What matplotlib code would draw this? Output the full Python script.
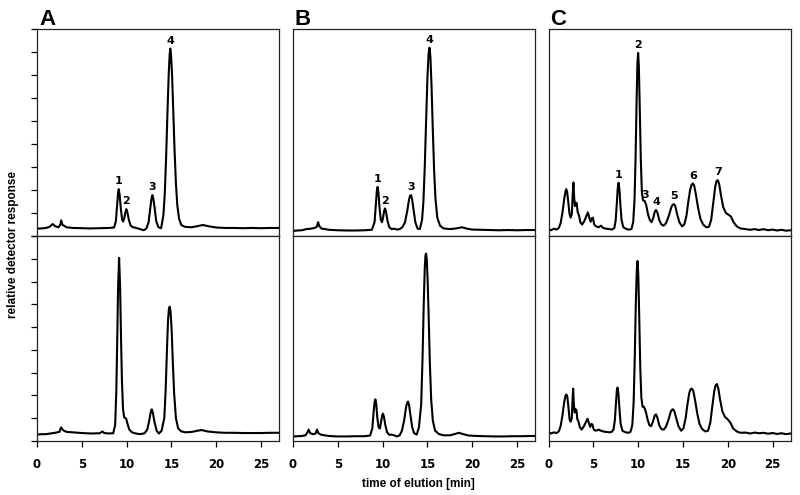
import numpy as np
import matplotlib
matplotlib.use('Agg')
import matplotlib.pyplot as plt

plt.rcParams['font.family'] = ['Liberation Sans', 'DejaVu Sans']

# chromatogram traces, (time in min, relative response)
a_top = [(0, 0.32), (0.5, 0.33), (1.0, 0.35), (1.4, 0.4), (1.75, 0.52), (2.05, 0.42), (2.4, 0.38),
         (2.6, 0.5), (2.7, 0.68), (2.85, 0.48), (3.0, 0.45), (3.3, 0.38), (4.0, 0.35), (5.0, 0.34),
         (6.0, 0.33), (7.0, 0.34), (8.0, 0.35), (8.6, 0.37), (8.8, 0.64), (8.95, 1.4), (9.05, 1.9),
         (9.12, 2.04), (9.22, 1.8), (9.35, 1.2), (9.5, 0.7), (9.62, 0.63), (9.75, 0.8), (9.87, 1.05),
         (9.97, 1.17), (10.1, 1.0), (10.25, 0.7), (10.45, 0.45), (10.7, 0.38), (11.0, 0.36), (11.5, 0.3),
         (11.9, 0.25), (12.2, 0.32), (12.45, 0.6), (12.65, 1.25), (12.78, 1.65), (12.87, 1.78),
         (12.97, 1.65), (13.1, 1.3), (13.3, 0.65), (13.55, 0.38), (13.85, 0.34), (14.1, 0.9),
         (14.25, 1.8), (14.4, 3.35), (14.55, 5.3), (14.7, 7.1), (14.8, 7.9), (14.87, 8.16), (14.95, 7.9),
         (15.07, 7.0), (15.2, 5.5), (15.35, 3.7), (15.5, 2.3), (15.65, 1.35), (15.85, 0.75), (16.1, 0.48),
         (16.5, 0.4), (17.2, 0.38), (17.8, 0.42), (18.5, 0.48), (19.2, 0.42), (20, 0.37), (21, 0.35),
         (22, 0.35), (23, 0.34), (24, 0.35), (25, 0.34), (26, 0.35), (27, 0.35)]

a_bottom = [(0, 0.28), (0.5, 0.3), (1.0, 0.3), (1.5, 0.33), (2.0, 0.36), (2.5, 0.4), (2.7, 0.6),
            (2.85, 0.5), (3.0, 0.45), (3.3, 0.4), (4, 0.38), (5, 0.35), (6, 0.33), (7, 0.34), (7.3, 0.42),
            (7.5, 0.35), (8, 0.33), (8.5, 0.34), (8.72, 0.7), (8.85, 2.2), (8.95, 4.4), (9.05, 6.8),
            (9.16, 8.04), (9.27, 6.8), (9.37, 4.6), (9.48, 2.6), (9.6, 1.4), (9.72, 1.05), (9.85, 1.0),
            (9.95, 0.98), (10.1, 0.75), (10.3, 0.5), (10.6, 0.38), (11.0, 0.33), (11.5, 0.3), (12.0, 0.34),
            (12.3, 0.5), (12.5, 0.85), (12.7, 1.3), (12.8, 1.39), (12.92, 1.25), (13.1, 0.85), (13.35, 0.45),
            (13.6, 0.33), (13.9, 0.45), (14.2, 1.0), (14.35, 2.2), (14.5, 4.0), (14.62, 5.3), (14.72, 5.8),
            (14.8, 5.9), (14.9, 5.7), (15.02, 4.9), (15.15, 3.5), (15.3, 2.1), (15.5, 1.0), (15.75, 0.55),
            (16.1, 0.42), (16.6, 0.38), (17.3, 0.4), (18.0, 0.46), (18.4, 0.48), (19.0, 0.42), (20, 0.38),
            (21, 0.36), (22, 0.36), (23, 0.35), (24, 0.35), (25, 0.35), (26, 0.36), (27, 0.36)]

b_top = [(0, 0.22), (0.5, 0.24), (1.0, 0.25), (1.5, 0.3), (2.0, 0.32), (2.4, 0.35), (2.65, 0.4),
         (2.8, 0.6), (2.95, 0.42), (3.2, 0.32), (3.6, 0.3), (4.0, 0.27), (5, 0.25), (6, 0.24), (7, 0.24),
         (8, 0.25), (8.8, 0.27), (9.1, 0.6), (9.25, 1.4), (9.35, 1.95), (9.44, 2.14), (9.53, 1.9),
         (9.65, 1.25), (9.8, 0.7), (9.93, 0.6), (10.05, 0.8), (10.17, 1.1), (10.27, 1.2), (10.38, 1.05),
         (10.55, 0.65), (10.75, 0.38), (11.0, 0.3), (11.3, 0.32), (11.6, 0.28), (11.9, 0.3), (12.2, 0.38),
         (12.5, 0.6), (12.75, 1.1), (12.95, 1.6), (13.07, 1.75), (13.17, 1.78), (13.28, 1.62),
         (13.45, 1.15), (13.65, 0.6), (13.9, 0.32), (14.15, 0.3), (14.4, 0.7), (14.55, 1.5), (14.7, 3.0),
         (14.85, 5.0), (15.0, 6.9), (15.12, 7.9), (15.23, 8.2), (15.33, 7.8), (15.45, 6.6), (15.6, 4.6),
         (15.75, 2.8), (15.9, 1.6), (16.1, 0.8), (16.4, 0.45), (16.8, 0.33), (17.5, 0.3), (18.2, 0.33),
         (18.85, 0.38), (19.4, 0.32), (20, 0.28), (21, 0.27), (22, 0.26), (23, 0.25), (24, 0.26),
         (25, 0.25), (26, 0.26), (27, 0.26)]

b_bottom = [(0, 0.2), (0.5, 0.21), (1.0, 0.22), (1.4, 0.25), (1.6, 0.38), (1.75, 0.5), (1.9, 0.35),
            (2.2, 0.3), (2.5, 0.32), (2.68, 0.5), (2.82, 0.35), (3.1, 0.28), (3.5, 0.25), (4, 0.22),
            (5, 0.2), (6, 0.2), (7, 0.21), (8, 0.21), (8.6, 0.24), (8.85, 0.55), (9.0, 1.3), (9.1, 1.7),
            (9.19, 1.83), (9.28, 1.65), (9.4, 1.05), (9.55, 0.6), (9.7, 0.55), (9.85, 0.9), (9.95, 1.12),
            (10.04, 1.2), (10.14, 1.08), (10.3, 0.7), (10.5, 0.38), (10.75, 0.27), (11.0, 0.28),
            (11.3, 0.25), (11.6, 0.2), (11.9, 0.25), (12.15, 0.45), (12.4, 0.9), (12.6, 1.45),
            (12.73, 1.68), (12.83, 1.73), (12.94, 1.6), (13.1, 1.15), (13.3, 0.6), (13.5, 0.35),
            (13.8, 0.28), (14.05, 0.6), (14.3, 1.6), (14.45, 3.6), (14.58, 5.9), (14.7, 7.6), (14.78, 8.15),
            (14.84, 8.23), (14.92, 8.0), (15.02, 7.1), (15.14, 5.4), (15.27, 3.4), (15.42, 1.8), (15.6, 0.9),
            (15.85, 0.45), (16.3, 0.3), (16.8, 0.25), (17.5, 0.25), (18.0, 0.3), (18.5, 0.36), (19.0, 0.3),
            (19.6, 0.24), (20.5, 0.22), (21.5, 0.21), (22.5, 0.2), (23.5, 0.2), (24.5, 0.21), (25.5, 0.21),
            (26.5, 0.22), (27, 0.22)]

c_top = [(0, 0.3), (0.3, 0.25), (0.6, 0.32), (0.9, 0.28), (1.15, 0.35), (1.35, 0.55), (1.55, 1.0),
         (1.75, 1.6), (1.9, 1.95), (1.97, 2.04), (2.07, 1.95), (2.2, 1.5), (2.35, 0.95), (2.47, 0.8),
         (2.6, 0.95), (2.7, 1.8), (2.78, 2.33), (2.86, 1.7), (2.95, 1.3), (3.05, 1.45), (3.15, 1.43),
         (3.25, 1.05), (3.4, 0.9), (3.55, 0.6), (3.75, 0.5), (4.0, 0.65), (4.25, 0.9), (4.4, 1.03),
         (4.55, 0.8), (4.7, 0.62), (4.85, 0.78), (4.95, 0.8), (5.1, 0.5), (5.3, 0.42), (5.6, 0.38),
         (5.85, 0.45), (6.1, 0.35), (6.4, 0.32), (6.8, 0.3), (7.1, 0.28), (7.35, 0.35), (7.5, 0.7),
         (7.62, 1.4), (7.72, 2.05), (7.82, 2.32), (7.92, 2.0), (8.03, 1.3), (8.15, 0.7), (8.35, 0.38),
         (8.7, 0.3), (9.0, 0.28), (9.25, 0.3), (9.45, 0.6), (9.6, 1.6), (9.72, 3.5), (9.83, 5.9),
         (9.92, 7.5), (10.0, 7.97), (10.08, 7.4), (10.18, 5.6), (10.3, 3.3), (10.42, 1.9), (10.55, 1.55),
         (10.74, 1.52), (10.9, 1.35), (11.1, 0.95), (11.3, 0.7), (11.5, 0.6), (11.7, 0.8), (11.85, 1.05),
         (12.0, 1.13), (12.15, 1.02), (12.35, 0.7), (12.6, 0.5), (12.85, 0.45), (13.1, 0.55), (13.4, 0.85),
         (13.7, 1.25), (13.85, 1.36), (14.0, 1.39), (14.15, 1.3), (14.35, 0.95), (14.6, 0.6), (14.9, 0.42),
         (15.15, 0.5), (15.4, 0.9), (15.6, 1.5), (15.8, 2.0), (15.95, 2.22), (16.1, 2.29), (16.25, 2.2),
         (16.45, 1.8), (16.7, 1.2), (16.95, 0.75), (17.25, 0.5), (17.6, 0.38), (17.9, 0.4), (18.15, 0.7),
         (18.4, 1.5), (18.6, 2.15), (18.75, 2.4), (18.9, 2.43), (19.05, 2.25), (19.25, 1.75), (19.5, 1.25),
         (19.8, 1.0), (20.1, 0.92), (20.35, 0.85), (20.65, 0.6), (21.0, 0.42), (21.4, 0.33), (22, 0.3),
         (22.5, 0.27), (23, 0.3), (23.5, 0.26), (24, 0.3), (24.5, 0.25), (25, 0.28), (25.5, 0.24),
         (26, 0.27), (26.5, 0.23), (27, 0.25)]

c_bottom = [(0, 0.4), (0.3, 0.33), (0.6, 0.38), (0.9, 0.35), (1.15, 0.42), (1.35, 0.65), (1.55, 1.1),
            (1.75, 1.7), (1.9, 2.0), (2.0, 2.04), (2.1, 1.95), (2.22, 1.5), (2.35, 0.95), (2.47, 0.85),
            (2.6, 1.0), (2.68, 1.8), (2.75, 2.3), (2.83, 1.6), (2.92, 1.25), (3.02, 1.4), (3.12, 1.35),
            (3.22, 0.95), (3.35, 0.85), (3.5, 0.6), (3.7, 0.5), (3.95, 0.65), (4.2, 0.85), (4.35, 0.98),
            (4.5, 0.8), (4.65, 0.62), (4.8, 0.75), (4.9, 0.72), (5.05, 0.5), (5.3, 0.45), (5.6, 0.5),
            (5.85, 0.45), (6.1, 0.42), (6.4, 0.4), (6.8, 0.38), (7.05, 0.4), (7.25, 0.5), (7.4, 0.9),
            (7.52, 1.6), (7.62, 2.2), (7.7, 2.35), (7.8, 2.1), (7.92, 1.4), (8.05, 0.75), (8.25, 0.45),
            (8.6, 0.38), (8.9, 0.36), (9.15, 0.4), (9.35, 0.7), (9.5, 1.7), (9.62, 3.6), (9.74, 6.0),
            (9.85, 7.5), (9.93, 7.9), (10.02, 7.3), (10.12, 5.5), (10.24, 3.2), (10.36, 1.9), (10.5, 1.5),
            (10.65, 1.5), (10.85, 1.3), (11.05, 0.95), (11.25, 0.7), (11.45, 0.65), (11.65, 0.85),
            (11.85, 1.12), (12.0, 1.17), (12.15, 1.02), (12.35, 0.7), (12.6, 0.52), (12.85, 0.5),
            (13.1, 0.62), (13.4, 0.95), (13.65, 1.3), (13.8, 1.38), (13.9, 1.39), (14.05, 1.3), (14.25, 1.0),
            (14.5, 0.65), (14.8, 0.45), (15.05, 0.55), (15.3, 1.0), (15.5, 1.6), (15.7, 2.1), (15.85, 2.27),
            (16.0, 2.3), (16.15, 2.2), (16.35, 1.8), (16.6, 1.2), (16.85, 0.75), (17.15, 0.52), (17.5, 0.42),
            (17.8, 0.45), (18.05, 0.8), (18.3, 1.6), (18.5, 2.2), (18.65, 2.45), (18.8, 2.5), (18.95, 2.3),
            (19.15, 1.8), (19.4, 1.3), (19.7, 1.05), (20.0, 0.95), (20.3, 0.8), (20.6, 0.55), (21.0, 0.42),
            (21.4, 0.36), (22, 0.37), (22.5, 0.33), (23, 0.37), (23.5, 0.34), (24, 0.36), (24.5, 0.32),
            (25, 0.35), (25.5, 0.31), (26, 0.34), (26.5, 0.3), (27, 0.33)]

# numbered peaks (label, retention time) in the upper traces
a_peaks = [('1', 9.12), ('2', 9.97), ('3', 12.87), ('4', 14.87)]
b_peaks = [('1', 9.44), ('2', 10.27), ('3', 13.17), ('4', 15.23)]
c_peaks = [('1', 7.82), ('2', 10.0), ('3', 10.8), ('4', 12.0), ('5', 14.0), ('6', 16.1), ('7', 18.9)]

panel_letters = ['A', 'B', 'C']
x_ticks = [0, 5, 10, 15, 20, 25]

fig = plt.figure(figsize=(8, 4.95), dpi=100)

lefts = [37 / 800, 293 / 800, 548.5 / 800]
width = 242 / 800
y_top, y_mid, y_bot = 1 - 29.3 / 495, 1 - 236 / 495, 1 - 441 / 495

panels = [(a_top, a_bottom, a_peaks), (b_top, b_bottom, b_peaks), (c_top, c_bottom, c_peaks)]

for i, (top, bottom, peaks) in enumerate(panels):
    ax_t = fig.add_axes([lefts[i], y_mid, width, y_top - y_mid])
    ax_b = fig.add_axes([lefts[i], y_bot, width, y_mid - y_bot])
    for ax, trace in ((ax_t, top), (ax_b, bottom)):
        d = np.array(trace)
        ax.plot(d[:, 0], d[:, 1], color='black', lw=1.5)
        ax.set_xlim(0, 27)
        ax.set_ylim(0, 9)
        for s in ax.spines.values():
            s.set_linewidth(0.9)
            s.set_color('#222222')
        if i == 0:
            ax.set_yticks(range(10))
            ax.tick_params(axis='y', direction='out', length=4, width=0.9, labelleft=False)
        else:
            ax.set_yticks([])
    ax_t.set_xticks([])
    ax_b.set_xticks(x_ticks)
    ax_b.tick_params(axis='x', direction='out', length=4, width=0.9, pad=8)
    for lab in ax_b.get_xticklabels():
        lab.set_fontfamily('DejaVu Sans')
        lab.set_fontweight('bold')
        lab.set_fontsize(8.5)

    d = np.array(top)
    for txt, t in peaks:
        ax_t.annotate(txt, (t, np.interp(t, d[:, 0], d[:, 1])), xytext=(0, 2),
                      textcoords='offset points', ha='center', va='bottom',
                      fontsize=8, fontweight='bold', family='DejaVu Sans')

    fig.text(lefts[i] + 2 / 800, 1 - 25 / 495, panel_letters[i], fontsize=16,
             fontweight='bold', ha='left', va='baseline')

fig.text(13 / 800, 1 - 244 / 495, 'relative detector response', rotation=90,
         ha='center', va='center', fontsize=8.5, fontweight='bold')
fig.text(418.5 / 800, 1 - 484 / 495, 'time of elution [min]', ha='center', va='center',
         fontsize=8.5, fontweight='bold')

fig.savefig('out.png', dpi=100)
